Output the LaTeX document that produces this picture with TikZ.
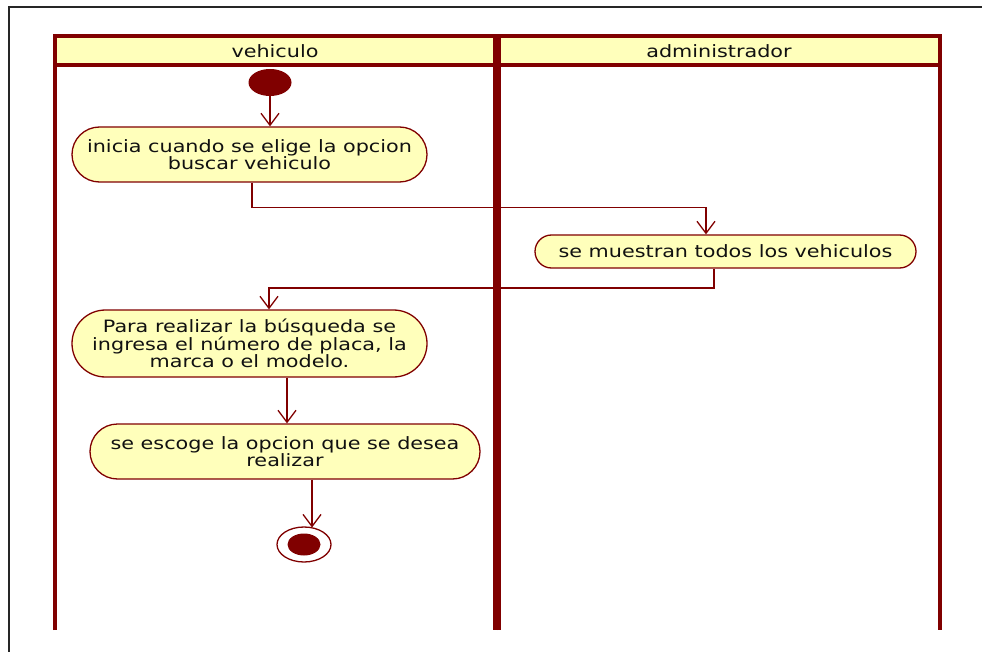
\documentclass[tikz,border=0pt]{standalone}
\usepackage{fontspec}
\setmainfont[FakeStretch=1.22]{DejaVu Sans}
\usetikzlibrary{shapes.geometric,shapes.misc,arrows.meta}
\definecolor{umlred}{RGB}{128,0,0}
\definecolor{umlfill}{RGB}{255,255,187}
\definecolor{umltext}{RGB}{17,17,17}
\tikzset{
  lane/.style={draw=umlred, line width=4pt, line join=miter},
  laneheader/.style={fill=umlfill},
  lanetitle/.style={text=umltext, font=\fontsize{17}{17.5}\selectfont},
  action/.style={rounded rectangle, draw=umlred, fill=umlfill, line width=1.3pt,
    align=center, inner sep=0pt, text=umltext, font=\fontsize{17}{17.2}\selectfont},
  startnode/.style={ellipse, fill=umlred, draw=none, inner sep=0pt},
  endnode/.style={ellipse, fill=white, draw=umlred, line width=1.3pt, inner sep=0pt},
  flow/.style={draw=umlred, line width=1.3pt,
    -{Straight Barb[length=12pt,width=18pt,line width=1.3pt]}},
  frame/.style={draw=black!85, line width=2pt}
}
\begin{document}
\begin{tikzpicture}[x=1pt,y=-1pt]
\path[use as bounding box] (0,0) rectangle (982,652);
\clip (0,0) rectangle (982,652);

% outer frame of the sheet
\draw[frame] (9.3,7.3) rectangle (1000,670);

% swimlane headers
\fill[laneheader] (55,36.5) rectangle (494.5,65);
\fill[laneheader] (499,36.5) rectangle (940,65);
\node[lanetitle] (h1) at (275,51.5) {vehiculo};
\node[lanetitle] (h2) at (719,51.5) {administrador};

% swimlane borders (open at the bottom)
\draw[lane] (55,630) -- (55,36.5) -- (494.5,36.5) -- (494.5,630);
\draw[lane] (55,65) -- (494.5,65);
\draw[lane] (499,630) -- (499,36.5) -- (940,36.5) -- (940,630);
\draw[lane] (499,65) -- (940,65);

% activity nodes
\node[startnode, minimum width=43pt, minimum height=27pt] (start) at (270,82.5) {};
\node[action, minimum width=355pt, minimum height=55pt] (a1) at (249.5,154.5)
  {inicia cuando se elige la opcion\\buscar vehiculo};
\node[action, minimum width=381pt, minimum height=33pt] (a2) at (725.5,251.5)
  {se muestran todos los vehiculos};
\node[action, minimum width=355pt, minimum height=67pt] (a3) at (249.5,343.5)
  {Para realizar la búsqueda se\\ingresa el número de placa, la\\marca o el modelo.};
\node[action, minimum width=390pt, minimum height=55pt] (a4) at (285,451.5)
  {se escoge la opcion que se desea\\realizar};
\node[endnode, minimum width=54pt, minimum height=35pt] (end) at (304,544.5) {};
\node[startnode, minimum width=33pt, minimum height=22pt] (endcore) at (end.center) {};

% control flows
\draw[flow] (start.south) -- (a1.north -| start.south);
\draw[flow] (a1.south -| 252,0) |- (706,207.5) -- (a2.north -| 706,0);
\draw[flow] (a2.south -| 714,0) |- (269,288) -- (a3.north -| 269,0);
\draw[flow] (a3.south -| 287,0) -- (a4.north -| 287,0);
\draw[flow] (a4.south -| 312,0) -- (312,527.5);
\end{tikzpicture}
\end{document}
